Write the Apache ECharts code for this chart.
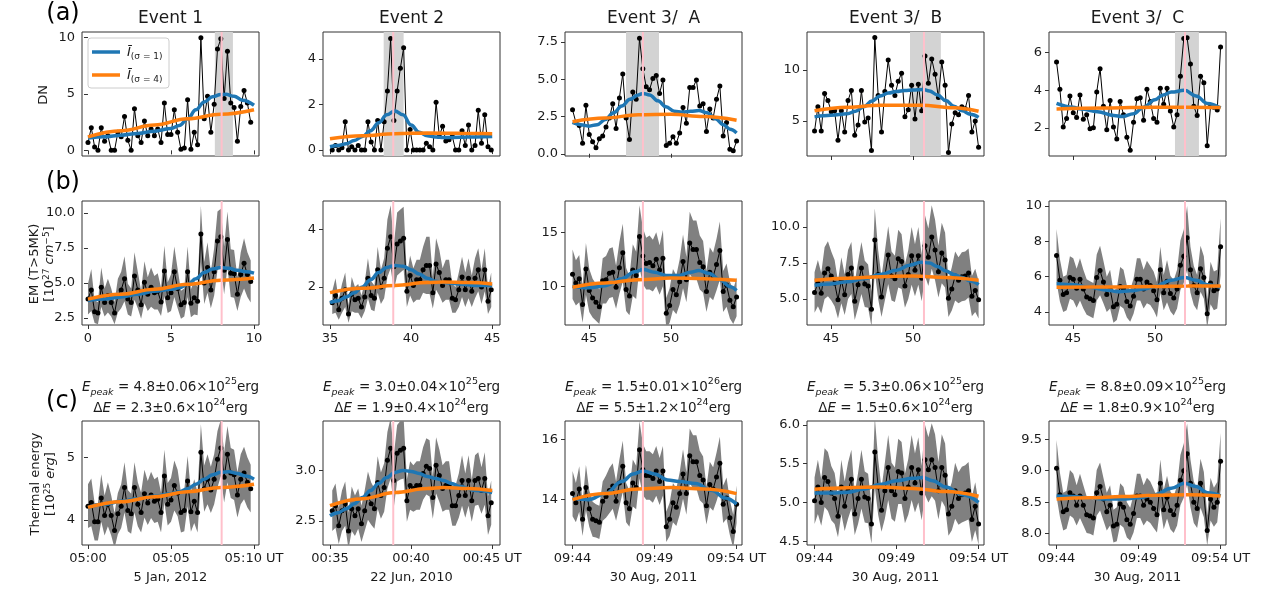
<!DOCTYPE html>
<html><head><meta charset="utf-8">
<script src="https://cdn.jsdelivr.net/npm/echarts@6.0.0/dist/echarts.min.js"></script>
<style>html,body{margin:0;padding:0;background:#fff}#c{width:1271px;height:592px}</style>
</head><body><div id="c"></div>
<script>
// ---------------- DATA ----------------
const eventNames = ['Event 1','Event 2','Event 3/  A','Event 3/  B','Event 3/  C'];
const dateLabels = ['5 Jan, 2012','22 Jun, 2010','30 Aug, 2011','30 Aug, 2011','30 Aug, 2011'];
// sample times (minutes after the hour), 12-s cadence
const t1 = Array.from({length:50},(_,i)=>+(0+0.2*i).toFixed(3));
const t2 = Array.from({length:50},(_,i)=>+(35.14+0.2*i).toFixed(3));
const t3 = Array.from({length:50},(_,i)=>+(44+i*10/49).toFixed(3));
const peakTimes = [8.05,38.9,48.29,50.67,51.83];
const spanTimes = [[7.64,8.73],[38.31,39.54],[47.26,49.27],[49.82,51.7],[51.22,52.68]];

// (a) DN
const dn1 = [0.7,2.0,0.3,0.0,2.0,0.8,1.3,0.0,0.0,1.6, 1.2,3.0,0.9,0.0,3.7,1.3,0.7,2.6,1.3,1.9, 1.3,1.9,0.7,4.2,1.4,1.4,3.6,1.6,0.1,0.2, 4.5,0.1,1.6,0.5,10.0,2.8,4.8,1.6,4.1,9.0, 9.9,4.6,8.8,4.2,3.8,0.8,3.9,5.3,4.2,2.5];
const dn2 = [0.0,0.2,0.0,0.1,1.25,0.0,0.15,0.0,0.2,0.0, 0.0,1.25,0.35,0.0,1.3,0.0,1.25,2.6,4.9,1.3, 2.6,3.6,4.5,0.0,0.9,0.0,0.0,0.0,0.0,0.3, 0.15,0.0,2.1,0.6,1.05,0.4,0.45,0.6,0.0,0.0, 0.85,0.2,1.1,0.0,0.2,1.75,0.3,1.55,0.15,0.0];
const dnA = [2.95,2.1,1.9,0.7,3.25,1.3,0.8,0.4,1.0,1.2, 1.8,2.4,3.35,1.7,3.75,5.35,2.4,0.95,4.15,3.65, 7.75,5.7,4.5,4.3,5.05,5.25,4.05,4.95,0.55,0.7, 1.15,0.7,1.4,3.1,2.05,4.45,4.45,4.95,3.2,3.35, 1.5,3.0,2.4,3.65,4.55,1.2,2.1,0.3,0.2,0.85];
const dnB = [4.0,6.4,4.0,7.7,7.0,5.9,6.0,3.1,6.0,3.9, 7.0,8.0,3.6,4.6,8.0,4.9,5.3,2.1,13.2,7.5, 3.9,7.9,11.0,8.5,7.5,8.9,9.7,5.4,6.1,8.5, 5.2,8.6,6.0,11.4,8.7,11.1,9.6,7.3,10.8,8.5, 1.9,4.7,5.8,5.6,6.4,6.2,7.5,3.9,5.0,2.4];
const dnC = [5.5,4.05,2.05,2.5,3.7,2.8,2.55,3.75,2.45,2.7, 1.95,2.0,3.9,5.15,3.15,1.9,3.45,2.05,1.4,3.4, 2.7,1.5,0.8,2.3,3.55,3.6,2.4,4.05,3.4,2.5, 2.3,4.1,3.25,4.1,2.9,2.05,2.7,4.75,6.75,6.8, 5.4,3.15,2.65,4.75,4.4,1.05,3.15,3.1,2.95,6.3];

// (b) EM and uncertainty
const em1 = [3.85,4.5,2.95,2.85,4.7,3.6,4.1,3.6,2.85,4.1, 4.5,5.3,3.85,3.6,5.5,4.5,3.45,5.05,4.2,4.7, 4.3,4.4,3.65,5.85,3.95,4.3,5.8,4.6,3.45,3.6, 5.8,3.55,3.95,3.7,8.5,5.0,6.1,4.5,5.8,8.0, 8.3,5.9,8.1,5.7,5.65,4.2,5.6,6.4,5.6,5.1];
const emErr1 = [1.1,1.5,0.8,0.8,1.4,1.0,1.2,1.0,0.8,1.2, 1.3,1.6,1.1,1.0,1.7,1.3,1.0,1.5,1.2,1.4, 1.2,1.3,1.0,1.8,1.1,1.3,1.8,1.4,1.0,1.0, 1.8,1.0,1.2,1.0,2.0,1.5,1.8,1.3,1.7,2.1, 2.0,1.7,2.0,1.7,1.7,1.2,1.6,1.8,1.6,1.5];
const em2 = [1.45,1.7,1.2,1.6,1.9,1.05,1.75,1.55,1.6,1.3, 1.65,2.3,1.7,1.6,2.6,2.0,2.3,3.35,3.75,2.7, 3.5,3.6,3.7,1.85,2.4,2.05,2.25,2.25,2.6,2.75, 2.75,1.8,2.8,2.5,2.05,2.25,2.25,1.6,1.55,1.9, 2.35,1.9,2.3,1.85,2.3,2.6,2.0,2.6,1.5,1.9];
const emErr2 = [0.4,0.6,0.35,0.5,0.6,0.3,0.6,0.45,0.5,0.4, 0.5,0.7,0.5,0.45,0.8,0.6,0.7,1.0,1.1,0.8, 1.1,1.1,1.1,0.55,0.7,0.6,0.7,0.7,0.8,1.0, 1.0,0.55,0.9,0.8,0.6,0.7,0.7,0.5,0.45,0.6, 0.7,0.6,0.7,0.55,0.7,0.75,0.6,0.75,0.45,0.6];
const emA = [11.1,10.3,10.7,8.3,11.6,9.6,8.9,8.5,8.1,10.5, 10.6,11.2,11.3,9.9,11.7,13.1,9.7,9.1,11.5,11.0, 14.6,12.8,12.1,12.2,11.9,12.5,11.5,12.6,7.5,8.2, 9.7,9.2,10.4,12.3,10.6,14.0,13.4,13.4,12.2,11.8, 9.5,11.3,10.9,12.0,13.3,9.5,10.1,8.7,8.1,9.0];
const emErrA = [2.3,2.1,2.2,1.7,2.4,2.0,1.8,1.7,1.6,2.1, 2.2,2.3,2.3,2.0,2.4,2.7,2.0,1.8,2.4,2.2, 2.9,2.6,2.4,2.5,2.4,2.5,2.3,2.6,1.4,1.6, 1.9,1.8,2.1,2.5,2.1,2.9,2.7,2.7,2.5,2.4, 1.9,2.3,2.2,2.4,2.7,1.9,2.0,1.7,1.6,1.8];
const emB = [5.45,6.1,5.4,6.8,7.1,6.6,6.1,4.95,6.3,5.3, 6.7,7.15,4.85,6.0,7.15,6.05,5.9,4.3,9.1,6.7, 5.15,6.6,8.05,6.6,6.4,7.8,7.6,5.9,6.7,8.0, 7.0,8.0,6.45,8.7,7.9,9.3,8.4,6.9,8.2,7.7, 5.05,5.7,6.6,6.3,6.55,6.6,6.8,5.2,5.6,4.95];
const emErrB = [1.4,1.6,1.4,1.8,1.9,1.7,1.6,1.3,1.6,1.4, 1.7,1.8,1.3,1.6,1.8,1.6,1.5,1.2,2.2,1.7, 1.4,1.7,2.0,1.7,1.6,2.0,1.9,1.5,1.7,2.0, 1.8,2.0,1.6,2.1,2.0,2.2,2.1,1.8,2.1,1.9, 1.3,1.5,1.7,1.6,1.7,1.7,1.7,1.4,1.5,1.3];
const emC = [7.2,5.8,5.0,5.1,5.95,5.85,5.35,5.85,5.3,4.85, 4.75,4.65,5.95,6.35,5.7,5.0,5.3,4.3,4.45,5.45, 5.3,4.6,4.35,4.9,5.85,5.85,5.3,5.7,5.5,5.2, 4.7,6.4,5.1,5.75,5.05,4.8,5.3,6.65,7.15,8.2, 6.4,5.5,5.1,6.45,5.95,3.9,5.65,5.2,5.3,7.7];
const emErrC = [1.5,1.2,1.0,1.0,1.2,1.2,1.1,1.2,1.1,1.0, 1.0,1.0,1.3,1.4,1.2,1.0,1.1,0.9,0.9,1.1, 1.1,0.9,0.9,1.0,1.2,1.2,1.1,1.2,1.1,1.1, 1.0,1.3,1.0,1.2,1.0,1.0,1.1,1.4,1.5,1.8, 1.3,1.1,1.0,1.3,1.2,0.8,1.2,1.1,1.1,1.6];

// (c) thermal energy and uncertainty
const en1 = [4.22,4.28,3.97,3.97,4.35,4.07,4.25,4.07,3.83,4.1, 4.22,4.52,4.15,4.1,4.52,4.25,4.12,4.42,4.27,4.4, 4.3,4.33,4.12,4.7,4.25,4.32,4.55,4.43,4.12,4.15, 4.62,4.13,4.3,4.12,5.08,4.5,4.65,4.48,4.65,4.97, 5.15,4.68,5.05,4.75,4.72,4.4,4.65,4.75,4.6,4.5];
const enErr1 = [0.35,0.38,0.3,0.3,0.38,0.32,0.35,0.32,0.28,0.33, 0.35,0.4,0.33,0.32,0.4,0.35,0.32,0.38,0.35,0.37, 0.35,0.36,0.32,0.42,0.34,0.35,0.4,0.37,0.32,0.33, 0.4,0.32,0.35,0.32,0.45,0.37,0.4,0.37,0.4,0.45, 0.45,0.4,0.45,0.4,0.4,0.36,0.4,0.42,0.4,0.38];
const en2 = [2.6,2.65,2.45,2.6,2.67,2.4,2.62,2.55,2.62,2.47, 2.6,2.75,2.67,2.62,2.88,2.75,2.83,3.1,3.22,2.9, 3.17,3.2,3.22,2.7,2.85,2.82,2.85,2.85,2.97,3.04, 3.02,2.73,3.05,2.95,2.82,2.85,2.85,2.65,2.65,2.75, 2.9,2.75,2.9,2.7,2.9,2.92,2.8,2.92,2.55,2.68];
const enErr2 = [0.2,0.22,0.18,0.2,0.22,0.18,0.22,0.2,0.2,0.18, 0.2,0.24,0.21,0.2,0.26,0.23,0.24,0.28,0.3,0.26, 0.28,0.29,0.3,0.21,0.24,0.23,0.24,0.24,0.26,0.28, 0.28,0.21,0.28,0.26,0.23,0.24,0.24,0.2,0.2,0.22, 0.25,0.22,0.25,0.21,0.25,0.26,0.23,0.26,0.19,0.22];
const enA = [14.2,13.9,14.35,13.35,14.4,13.7,13.35,13.3,13.25,13.95, 14.1,14.3,14.45,13.95,14.55,15.1,13.9,13.7,14.55,14.4, 15.65,15.0,14.8,14.8,14.7,14.95,14.6,14.95,13.1,13.35, 13.9,13.75,14.2,14.85,14.2,15.45,15.25,15.25,14.8,14.65, 13.8,14.5,14.35,14.75,15.2,13.85,14.05,13.4,12.95,13.85];
const enErrA = [0.75,0.65,0.75,0.55,0.75,0.6,0.58,0.55,0.55,0.65, 0.7,0.75,0.75,0.65,0.78,0.85,0.65,0.6,0.78,0.72, 0.95,0.85,0.8,0.8,0.8,0.82,0.78,0.82,0.5,0.55, 0.65,0.62,0.7,0.82,0.7,0.9,0.88,0.88,0.82,0.78, 0.62,0.75,0.72,0.8,0.88,0.62,0.68,0.58,0.55,0.62];
const enB = [5.02,5.2,5.0,5.32,5.27,5.12,5.05,4.82,5.2,4.95, 5.15,5.3,4.85,5.05,5.3,5.07,5.05,4.72,5.65,5.2, 4.9,5.15,5.45,5.15,5.1,5.4,5.38,5.05,5.2,5.45, 5.25,5.42,5.12,5.55,5.42,5.55,5.45,5.15,5.45,5.35, 4.85,4.95,5.15,5.05,5.1,5.12,5.15,4.78,4.95,4.72];
const enErrB = [0.3,0.35,0.3,0.38,0.38,0.35,0.33,0.27,0.35,0.32, 0.36,0.38,0.27,0.33,0.38,0.33,0.32,0.25,0.45,0.36, 0.28,0.36,0.42,0.36,0.35,0.42,0.4,0.32,0.36,0.42, 0.38,0.42,0.35,0.45,0.42,0.47,0.43,0.37,0.43,0.41, 0.28,0.31,0.36,0.34,0.36,0.36,0.37,0.29,0.31,0.27];
const enC = [9.04,8.62,8.35,8.38,8.65,8.6,8.45,8.6,8.45,8.3, 8.28,8.25,8.65,8.75,8.55,8.35,8.45,8.12,8.15,8.47, 8.42,8.22,8.15,8.32,8.6,8.6,8.45,8.55,8.5,8.4, 8.3,8.8,8.38,8.58,8.37,8.3,8.45,8.85,9.0,9.27, 8.8,8.5,8.4,8.8,8.62,8.05,8.55,8.42,8.5,9.15];
const enErrC = [0.45,0.35,0.3,0.3,0.36,0.35,0.32,0.35,0.32,0.29, 0.28,0.28,0.36,0.38,0.34,0.3,0.32,0.26,0.27,0.33, 0.32,0.28,0.26,0.3,0.35,0.35,0.32,0.34,0.33,0.31, 0.28,0.38,0.31,0.34,0.3,0.29,0.32,0.4,0.43,0.48, 0.38,0.33,0.31,0.39,0.36,0.24,0.34,0.31,0.32,0.45];

// smoothed curves  (sigma = 1 : blue, sigma = 4 : orange)
const blueA1 = [[0,1.1],[1,1.2],[2,1.35],[3,1.5],[4,1.7],[5,1.95],[5.5,2.2],[6,2.8],[6.5,3.6],[7,4.3],[7.5,4.75],[8,4.95],[8.3,4.97],[8.8,4.8],[9.3,4.45],[10,4.0]];
const orangeA1 = [[0,1.2],[2,1.75],[4,2.25],[6,2.8],[8,3.2],[10,3.6]];
const blueA2 = [[35,0.15],[35.5,0.2],[36,0.28],[36.5,0.42],[37,0.6],[37.5,0.85],[38,1.2],[38.5,1.55],[39,1.72],[39.5,1.55],[40,1.1],[40.5,0.78],[41,0.63],[41.5,0.57],[42,0.55],[43,0.56],[44,0.58],[45,0.6]];
const orangeA2 = [[35,0.5],[37,0.63],[39,0.72],[41,0.75],[43,0.74],[45,0.72]];
const blueA3 = [[44,2.1],[44.5,1.95],[45,1.85],[45.5,1.95],[46,2.3],[46.5,2.75],[47,3.2],[47.5,3.65],[48,3.95],[48.3,4.05],[48.7,3.95],[49.2,3.55],[49.7,3.15],[50.2,2.85],[50.7,2.8],[51.2,2.85],[51.7,2.9],[52.2,2.75],[52.7,2.35],[53.2,1.95],[53.6,1.65],[54,1.4]];
const orangeA3 = [[44,2.15],[46,2.4],[48,2.62],[50,2.65],[52,2.5],[54,2.25]];
const blueA4 = [[44,5.4],[45,5.55],[46,5.7],[46.5,5.95],[47,6.4],[47.5,6.95],[48,7.45],[48.5,7.75],[49,7.9],[49.5,8.0],[50,8.05],[50.6,8.1],[51,7.95],[51.5,7.55],[52,7.0],[52.5,6.45],[53,6.0],[53.5,5.65],[54,5.35]];
const orangeA4 = [[44,6.0],[46,6.35],[48,6.55],[50.5,6.55],[52.5,6.3],[54,5.95]];
const blueA5 = [[44,3.3],[45,3.1],[45.5,3.0],[46.5,2.85],[47.5,2.65],[48,2.6],[48.7,2.75],[49.3,3.1],[50,3.5],[50.5,3.75],[51,3.9],[51.8,4.0],[52.5,3.7],[53.2,3.3],[54,3.05]];
const orangeA5 = [[44,3.0],[47,3.05],[50,3.1],[52,3.1],[54,3.08]];

const blueB1 = [[0,3.75],[1,3.85],[2,4.0],[3,4.2],[4,4.4],[5,4.55],[5.5,4.65],[6,4.9],[6.5,5.3],[7,5.75],[7.5,6.0],[8,6.1],[8.5,6.05],[9,5.9],[9.5,5.8],[10,5.7]];
const orangeB1 = [[0,3.85],[2,4.2],[4,4.55],[6,4.9],[8,5.2],[10,5.35]];
const blueB2 = [[35,1.45],[35.5,1.52],[36,1.65],[36.5,1.8],[37,2.0],[37.5,2.25],[38,2.5],[38.5,2.68],[39,2.75],[39.5,2.72],[40,2.6],[40.5,2.45],[41,2.3],[41.5,2.2],[42,2.15],[43,2.1],[44,2.05],[45,2.05]];
const orangeB2 = [[35,1.8],[37,1.95],[39,2.05],[41,2.15],[42,2.17],[43.5,2.15],[45,2.1]];
const blueB3 = [[44,10.0],[45,9.85],[46,10.05],[47,10.7],[47.8,11.35],[48.3,11.55],[49,11.3],[49.7,11.0],[50.5,11.0],[51.2,11.3],[51.7,11.45],[52.3,11.2],[53,10.6],[53.6,9.95],[54,9.6]];
const orangeB3 = [[44,9.9],[46,10.3],[48,10.6],[50,10.75],[52,10.7],[54,10.55]];
const blueB4 = [[44,5.95],[45,6.05],[46,6.2],[47,6.4],[48,6.7],[49,7.0],[49.8,7.35],[50.5,7.55],[51,7.5],[51.5,7.25],[52,6.95],[52.5,6.7],[53,6.5],[53.5,6.25],[54,6.0]];
const orangeB4 = [[44,6.3],[46,6.45],[48,6.55],[50,6.6],[52,6.5],[54,6.3]];
const blueB5 = [[44,5.6],[45,5.55],[46,5.4],[47,5.25],[47.8,5.15],[48.5,5.2],[49.3,5.3],[50,5.45],[51,5.8],[51.8,5.95],[52.5,5.8],[53.2,5.55],[54,5.4]];
const orangeB5 = [[44,5.4],[47,5.42],[50,5.45],[52,5.47],[54,5.48]];

const blueC1 = [[0,4.2],[1,4.25],[2,4.3],[3,4.34],[4,4.38],[5,4.42],[5.5,4.45],[6,4.5],[6.5,4.57],[7,4.65],[7.5,4.72],[8,4.76],[8.5,4.77],[9,4.74],[9.5,4.7],[10,4.65]];
const orangeC1 = [[0,4.2],[2,4.29],[4,4.37],[6,4.45],[8,4.52],[10,4.57]];
const blueC2 = [[35,2.55],[35.5,2.58],[36,2.62],[36.5,2.67],[37,2.73],[37.5,2.8],[38,2.87],[38.5,2.93],[39,2.98],[39.5,3.0],[40,2.99],[40.5,2.97],[41,2.94],[41.5,2.92],[42,2.9],[42.5,2.87],[43,2.84],[44,2.8],[45,2.78]];
const orangeC2 = [[35,2.65],[37,2.72],[39,2.78],[41,2.82],[42,2.83],[43.5,2.82],[45,2.8]];
const blueC3 = [[44,14.05],[45,14.0],[46,14.2],[47,14.6],[47.7,14.85],[48.3,14.95],[49,14.85],[49.8,14.65],[50.5,14.6],[51.5,14.53],[52.5,14.3],[53.3,14.05],[54,13.85]];
const orangeC3 = [[44,14.0],[46,14.2],[48,14.35],[50,14.4],[52,14.35],[54,14.2]];
const blueC4 = [[44,5.12],[45,5.12],[46,5.13],[47,5.17],[48,5.23],[49,5.28],[50,5.31],[50.6,5.32],[51.2,5.28],[52,5.2],[53,5.1],[54,5.0]];
const orangeC4 = [[44,5.17],[46,5.19],[48,5.2],[50,5.18],[52,5.14],[54,5.08]];
const blueC5 = [[44,8.6],[45,8.59],[46,8.57],[47,8.55],[48,8.55],[49,8.57],[50,8.62],[51,8.72],[51.8,8.8],[52.5,8.75],[53.2,8.65],[54,8.6]];
const orangeC5 = [[44,8.55],[46,8.57],[48,8.59],[50,8.61],[52,8.62],[54,8.6]];

// energies shown above row (c)
const ePeakText = ['4.8±0.06','3.0±0.04','1.5±0.01','5.3±0.06','8.8±0.09'];
const ePeakExp = ['25','25','26','25','25'];
const dEText = ['2.3±0.6','1.9±0.4','5.5±1.2','1.5±0.6','1.8±0.9'];
const dEExp = ['24','24','24','24','24'];

// tick values / labels
const xTicksAB = [[0,5,10],[35,40,45],[45,50],[45,50],[45,50]];
const xTicksC = [[0,5,10],[35,40,45],[44,49,54],[44,49,54],[44,49,54]];
const xTickLabelsC = [['05:00','05:05','05:10 UT'],['00:35','00:40','00:45 UT'],['09:44','09:49','09:54 UT'],['09:44','09:49','09:54 UT'],['09:44','09:49','09:54 UT']];
const yTicks = [
  [[0,5,10],[0,2,4],[0,2.5,5,7.5],[5,10],[2,4,6]],
  [[2.5,5,7.5,10],[2,4],[10,15],[5,7.5,10],[4,6,8,10]],
  [[4,5],[2.5,3],[14,16],[4.5,5,5.5,6],[8,8.5,9,9.5]]];
const yDecimals = [[0,0,1,0,0],[1,0,0,1,0],[0,1,0,1,1]];

// ---------------- LAYOUT ----------------
const colLeft = [82,323,565,807,1049], colW = 177;
const rowTop = [32,201,421], rowH = 124;
const xRanges = [[-0.36,10.3],[34.57,45.48],[43.54,54.33],[43.54,54.33],[43.54,54.33]];
const yRanges = [
  [[-0.5,10.5],[-0.26,5.19],[-0.15,8.17],[1.55,13.75],[0.5,7.1]],
  [[2.0,10.85],[0.67,5.0],[6.4,17.9],[3.2,11.8],[3.27,10.28]],
  [[3.6,5.58],[2.26,3.49],[12.5,16.6],[4.45,6.05],[7.82,9.79]]];
const FONT = 'DejaVu Sans';
const TXT = '#1a1a1a';
const TICKFS = 13;

const times = [t1,t2,t3,t3,t3];
const panels = [
  [{v:dn1,b:blueA1,o:orangeA1},{v:dn2,b:blueA2,o:orangeA2},{v:dnA,b:blueA3,o:orangeA3},{v:dnB,b:blueA4,o:orangeA4},{v:dnC,b:blueA5,o:orangeA5}],
  [{v:em1,e:emErr1,b:blueB1,o:orangeB1},{v:em2,e:emErr2,b:blueB2,o:orangeB2},{v:emA,e:emErrA,b:blueB3,o:orangeB3},{v:emB,e:emErrB,b:blueB4,o:orangeB4},{v:emC,e:emErrC,b:blueB5,o:orangeB5}],
  [{v:en1,e:enErr1,b:blueC1,o:orangeC1},{v:en2,e:enErr2,b:blueC2,o:orangeC2},{v:enA,e:enErrA,b:blueC3,o:orangeC3},{v:enB,e:enErrB,b:blueC4,o:orangeC4},{v:enC,e:enErrC,b:blueC5,o:orangeC5}]];

const option = {animation:false, backgroundColor:'#fff', grid:[], xAxis:[], yAxis:[], series:[], graphic:[]};

function spanSeries(idx, sp){
  return {type:'custom', xAxisIndex:idx, yAxisIndex:idx, z:1, silent:true, data:[[sp[0],sp[1]]], encode:{x:[0,1]},
    renderItem(params, api){
      const cs = params.coordSys;
      const a = api.coord([api.value(0), 0])[0], b = api.coord([api.value(1), 0])[0];
      return {type:'rect', shape:{x:a, y:cs.y, width:b-a, height:cs.height}, style:{fill:'#d3d3d3'}};
    }};
}
function bandSeries(idx, t, v, e){
  const data = t.map((x,i)=>[x, v[i]-e[i], v[i]+e[i]]);
  return {type:'custom', xAxisIndex:idx, yAxisIndex:idx, z:2, silent:true, clip:true, data, encode:{x:0, y:[1,2]},
    renderItem(params, api){
      if (params.dataIndex !== 0) return null;
      const up = data.map(d=>api.coord([d[0], d[2]]));
      const lo = data.map(d=>api.coord([d[0], d[1]])).reverse();
      return {type:'polygon', shape:{points: up.concat(lo)}, style:{fill:'#808080'}};
    }};
}
function peakSeries(idx, p){
  return {type:'custom', xAxisIndex:idx, yAxisIndex:idx, z:8, silent:true, data:[[p,0]], encode:{x:0,y:1},
    renderItem(params, api){
      const cs = params.coordSys;
      const x = api.coord([api.value(0), 0])[0];
      return {type:'line', shape:{x1:x, y1:cs.y, x2:x, y2:cs.y+cs.height}, style:{stroke:'#ffc0cb', lineWidth:2}};
    }};
}

for (let r=0;r<3;r++){
  for (let c=0;c<5;c++){
    const idx = r*5+c;
    const p = panels[r][c], t = times[c];
    option.grid.push({left:colLeft[c], top:rowTop[r], width:colW, height:rowH, show:true,
      borderColor:'#333', borderWidth:1, backgroundColor:'transparent', containLabel:false, outerBoundsMode:'none'});
    const xt = r===2 ? xTicksC[c] : xTicksAB[c];
    option.xAxis.push({gridIndex:idx, type:'value', min:xRanges[c][0], max:xRanges[c][1],
      axisLine:{show:false}, splitLine:{show:false},
      axisTick:{show:true, customValues:xt, length:4, inside:false, lineStyle:{color:'#333', width:1}},
      axisLabel:{show:r>0, customValues:xt, margin:7, color:TXT, fontFamily:FONT, fontSize:TICKFS,
        formatter:(val)=>{ const k = xt.findIndex(u=>Math.abs(u-val)<1e-6); if (k<0) return ''; return r===2 ? xTickLabelsC[c][k] : String(xt[k]); }},
      name: r===2 ? dateLabels[c] : '', nameLocation:'middle', nameGap:26,
      nameTextStyle:{color:TXT, fontFamily:FONT, fontSize:TICKFS}});
    const yt = yTicks[r][c], dec = yDecimals[r][c];
    option.yAxis.push({gridIndex:idx, type:'value', min:yRanges[r][c][0], max:yRanges[r][c][1],
      axisLine:{show:false}, splitLine:{show:false},
      axisTick:{show:true, customValues:yt, length:4, inside:false, lineStyle:{color:'#333', width:1}},
      axisLabel:{show:true, customValues:yt, margin:7, color:TXT, fontFamily:FONT, fontSize:TICKFS,
        formatter:(val)=>Number(val).toFixed(dec)}});
    if (r===0) option.series.push(spanSeries(idx, spanTimes[c]));
    if (p.e) option.series.push(bandSeries(idx, t, p.v, p.e));
    option.series.push({type:'line', xAxisIndex:idx, yAxisIndex:idx, z:3, silent:true,
      data:t.map((x,i)=>[x,p.v[i]]), symbol:'circle', symbolSize:5, showSymbol:true,
      lineStyle:{color:'#000', width:1}, itemStyle:{color:'#000'}});
    option.series.push({type:'line', xAxisIndex:idx, yAxisIndex:idx, z:4, silent:true, data:p.b,
      smooth:0.4, smoothMonotone:'x', symbol:'none', lineStyle:{color:'#1f77b4', width:3.5}});
    option.series.push({type:'line', xAxisIndex:idx, yAxisIndex:idx, z:5, silent:true, data:p.o,
      smooth:0.4, smoothMonotone:'x', symbol:'none', lineStyle:{color:'#ff7f0e', width:3.5}});
    option.series.push(peakSeries(idx, peakTimes[c]));
  }
}

// titles
const g = option.graphic;
for (let c=0;c<5;c++){
  const cx = colLeft[c] + colW/2;
  g.push({type:'text', x:cx, y:19, z:100, style:{text:eventNames[c], fill:TXT, font:'17px "DejaVu Sans"', align:'center', verticalAlign:'middle'}});
  const rich = {
    n:{fontFamily:FONT, fontSize:13.5, lineHeight:21, fill:TXT},
    i:{fontFamily:FONT, fontSize:13.5, fontStyle:'italic', lineHeight:21, fill:TXT},
    sb:{fontFamily:FONT, fontSize:9.5, fontStyle:'italic', lineHeight:13, verticalAlign:'bottom', fill:TXT},
    sp:{fontFamily:FONT, fontSize:9.5, lineHeight:13, verticalAlign:'top', fill:TXT}};
  g.push({type:'text', x:cx, y:398, z:100, style:{
    text:'{i|E}{sb|peak}{n| = '+ePeakText[c]+'×10}{sp|'+ePeakExp[c]+'}{n|erg}\n{n|Δ}{i|E}{n| = '+dEText[c]+'×10}{sp|'+dEExp[c]+'}{n|erg}',
    rich, align:'center', verticalAlign:'middle', fill:TXT, font:'13.5px "DejaVu Sans"'}});
}
g.push({type:'text', x:63, y:14, z:100, style:{text:'(a)', fill:'#000', font:'24px "DejaVu Sans"', align:'center', verticalAlign:'middle'}});
g.push({type:'text', x:63, y:183, z:100, style:{text:'(b)', fill:'#000', font:'24px "DejaVu Sans"', align:'center', verticalAlign:'middle'}});
g.push({type:'text', x:62, y:402, z:100, style:{text:'(c)', fill:'#000', font:'24px "DejaVu Sans"', align:'center', verticalAlign:'middle'}});

const yRich = {
  n:{fontFamily:FONT, fontSize:13, lineHeight:15, fill:TXT},
  it:{fontFamily:FONT, fontSize:13, fontStyle:'italic', lineHeight:15, fill:TXT},
  sp:{fontFamily:FONT, fontSize:9, lineHeight:10, verticalAlign:'top', fill:TXT}};
g.push({type:'text', x:44, y:95, rotation:Math.PI/2, z:100, style:{text:'DN', fill:TXT, font:'13px "DejaVu Sans"', align:'center', verticalAlign:'middle'}});
g.push({type:'text', x:42, y:264, rotation:Math.PI/2, z:100, style:{text:'{n|EM (T>5MK)}\n{n|[10}{sp|27}{n| }{it|cm}{sp|−5}{n|]}', rich:yRich, fill:TXT, font:'13px "DejaVu Sans"', align:'center', verticalAlign:'middle'}});
g.push({type:'text', x:43, y:484, rotation:Math.PI/2, z:100, style:{text:'{n|Thermal energy}\n{n|[10}{sp|25}{n| }{it|erg}{n|]}', rich:yRich, fill:TXT, font:'13px "DejaVu Sans"', align:'center', verticalAlign:'middle'}});

// legend (panel a, Event 1)
const legRich = {
  i:{fontFamily:FONT, fontSize:13, fontStyle:'italic', lineHeight:16, fill:TXT},
  s:{fontFamily:FONT, fontSize:9, fontStyle:'normal', lineHeight:10, verticalAlign:'bottom', fill:TXT}};
g.push({type:'group', z:120, children:[
  {type:'rect', shape:{x:88, y:38, width:81, height:50, r:3}, style:{fill:'rgba(255,255,255,0.8)', stroke:'#cccccc', lineWidth:1}},
  {type:'line', shape:{x1:92, y1:52, x2:120, y2:52}, style:{stroke:'#1f77b4', lineWidth:3.5}},
  {type:'line', shape:{x1:92, y1:75, x2:120, y2:75}, style:{stroke:'#ff7f0e', lineWidth:3.5}},
  {type:'text', x:127, y:53, style:{text:'{i|Ī}{s|(σ = 1)}', rich:legRich, align:'left', verticalAlign:'middle'}},
  {type:'text', x:127, y:76, style:{text:'{i|Ī}{s|(σ = 4)}', rich:legRich, align:'left', verticalAlign:'middle'}}
]});

const chart = echarts.init(document.getElementById('c'), null, {renderer:'canvas'});
chart.setOption(option);
</script></body></html>
